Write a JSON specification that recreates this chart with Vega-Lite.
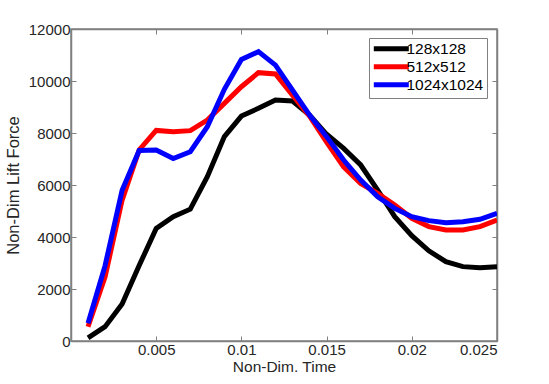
{
  "$schema": "https://vega.github.io/schema/vega-lite/v6.json",
  "width": 426,
  "height": 312,
  "autosize": {"type": "none"},
  "padding": {"left": 71, "top": 29, "right": 52, "bottom": 43},
  "background": "white",
  "config": {
    "font": "Liberation Sans",
    "view": {"stroke": "#808080", "strokeWidth": 1.5},
    "axis": {
      "domainColor": "#808080",
      "domainWidth": 1.5,
      "tickColor": "#808080",
      "tickSize": -5,
      "tickWidth": 1,
      "grid": false,
      "labelColor": "#262626",
      "labelFontSize": 15,
      "titleColor": "#262626",
      "titleFontSize": 15.5,
      "titleFontWeight": "normal"
    }
  },
  "data": {
    "values": [
      {"t": 0.001, "f": 120, "s": "128x128"},
      {"t": 0.002, "f": 550, "s": "128x128"},
      {"t": 0.003, "f": 1420, "s": "128x128"},
      {"t": 0.004, "f": 2900, "s": "128x128"},
      {"t": 0.005, "f": 4330, "s": "128x128"},
      {"t": 0.006, "f": 4780, "s": "128x128"},
      {"t": 0.007, "f": 5070, "s": "128x128"},
      {"t": 0.008, "f": 6320, "s": "128x128"},
      {"t": 0.009, "f": 7860, "s": "128x128"},
      {"t": 0.010, "f": 8650, "s": "128x128"},
      {"t": 0.011, "f": 8950, "s": "128x128"},
      {"t": 0.012, "f": 9270, "s": "128x128"},
      {"t": 0.013, "f": 9230, "s": "128x128"},
      {"t": 0.014, "f": 8690, "s": "128x128"},
      {"t": 0.015, "f": 7950, "s": "128x128"},
      {"t": 0.016, "f": 7410, "s": "128x128"},
      {"t": 0.017, "f": 6770, "s": "128x128"},
      {"t": 0.018, "f": 5800, "s": "128x128"},
      {"t": 0.019, "f": 4780, "s": "128x128"},
      {"t": 0.020, "f": 4050, "s": "128x128"},
      {"t": 0.021, "f": 3470, "s": "128x128"},
      {"t": 0.022, "f": 3050, "s": "128x128"},
      {"t": 0.023, "f": 2860, "s": "128x128"},
      {"t": 0.024, "f": 2820, "s": "128x128"},
      {"t": 0.025, "f": 2860, "s": "128x128"},
      {"t": 0.001, "f": 550, "s": "512x512"},
      {"t": 0.002, "f": 2470, "s": "512x512"},
      {"t": 0.003, "f": 5420, "s": "512x512"},
      {"t": 0.004, "f": 7350, "s": "512x512"},
      {"t": 0.005, "f": 8100, "s": "512x512"},
      {"t": 0.006, "f": 8050, "s": "512x512"},
      {"t": 0.007, "f": 8090, "s": "512x512"},
      {"t": 0.008, "f": 8500, "s": "512x512"},
      {"t": 0.009, "f": 9140, "s": "512x512"},
      {"t": 0.010, "f": 9780, "s": "512x512"},
      {"t": 0.011, "f": 10320, "s": "512x512"},
      {"t": 0.012, "f": 10270, "s": "512x512"},
      {"t": 0.013, "f": 9450, "s": "512x512"},
      {"t": 0.014, "f": 8650, "s": "512x512"},
      {"t": 0.015, "f": 7650, "s": "512x512"},
      {"t": 0.016, "f": 6700, "s": "512x512"},
      {"t": 0.017, "f": 6060, "s": "512x512"},
      {"t": 0.018, "f": 5680, "s": "512x512"},
      {"t": 0.019, "f": 5230, "s": "512x512"},
      {"t": 0.020, "f": 4720, "s": "512x512"},
      {"t": 0.021, "f": 4400, "s": "512x512"},
      {"t": 0.022, "f": 4270, "s": "512x512"},
      {"t": 0.023, "f": 4270, "s": "512x512"},
      {"t": 0.024, "f": 4400, "s": "512x512"},
      {"t": 0.025, "f": 4650, "s": "512x512"},
      {"t": 0.001, "f": 680, "s": "1024x1024"},
      {"t": 0.002, "f": 2900, "s": "1024x1024"},
      {"t": 0.003, "f": 5800, "s": "1024x1024"},
      {"t": 0.004, "f": 7330, "s": "1024x1024"},
      {"t": 0.005, "f": 7350, "s": "1024x1024"},
      {"t": 0.006, "f": 7020, "s": "1024x1024"},
      {"t": 0.007, "f": 7280, "s": "1024x1024"},
      {"t": 0.008, "f": 8240, "s": "1024x1024"},
      {"t": 0.009, "f": 9680, "s": "1024x1024"},
      {"t": 0.010, "f": 10830, "s": "1024x1024"},
      {"t": 0.011, "f": 11130, "s": "1024x1024"},
      {"t": 0.012, "f": 10610, "s": "1024x1024"},
      {"t": 0.013, "f": 9650, "s": "1024x1024"},
      {"t": 0.014, "f": 8690, "s": "1024x1024"},
      {"t": 0.015, "f": 7860, "s": "1024x1024"},
      {"t": 0.016, "f": 6960, "s": "1024x1024"},
      {"t": 0.017, "f": 6190, "s": "1024x1024"},
      {"t": 0.018, "f": 5550, "s": "1024x1024"},
      {"t": 0.019, "f": 5100, "s": "1024x1024"},
      {"t": 0.020, "f": 4780, "s": "1024x1024"},
      {"t": 0.021, "f": 4630, "s": "1024x1024"},
      {"t": 0.022, "f": 4550, "s": "1024x1024"},
      {"t": 0.023, "f": 4590, "s": "1024x1024"},
      {"t": 0.024, "f": 4680, "s": "1024x1024"},
      {"t": 0.025, "f": 4910, "s": "1024x1024"}
    ]
  },
  "layer": [
    {
      "mark": {"type": "line", "strokeWidth": 5, "strokeOpacity": 0},
      "encoding": {
        "x": {"field": "t", "type": "quantitative",
              "scale": {"domain": [0, 0.025], "nice": false, "zero": false},
              "axis": {"orient": "top", "labels": false, "title": null,
                       "values": [0.005, 0.01, 0.015, 0.02, 0.025]}},
        "y": {"field": "f", "type": "quantitative",
              "scale": {"domain": [0, 12000], "nice": false},
              "axis": {"orient": "right", "labels": false, "title": null,
                       "values": [0, 2000, 4000, 6000, 8000, 10000, 12000]}},
        "detail": {"field": "s"}
      }
    },
    {
      "mark": {"type": "line", "strokeWidth": 5, "strokeJoin": "miter", "clip": true},
      "encoding": {
        "x": {"field": "t", "type": "quantitative",
              "scale": {"domain": [0, 0.025], "nice": false, "zero": false},
              "axis": {"orient": "bottom", "title": "Non-Dim. Time", "format": "~g",
                       "labelPadding": 6, "titlePadding": 2,
                       "values": [0.005, 0.01, 0.015, 0.02, 0.025]}},
        "y": {"field": "f", "type": "quantitative",
              "scale": {"domain": [0, 12000], "nice": false},
              "axis": {"orient": "left", "title": "Non-Dim Lift Force", "format": "d",
                       "labelPadding": 6, "titlePadding": 7, "titleFontSize": 16.5,
                       "values": [0, 2000, 4000, 6000, 8000, 10000, 12000]}},
        "color": {
          "field": "s", "type": "nominal",
          "scale": {"domain": ["128x128", "512x512", "1024x1024"],
                    "range": ["#000000", "#ff0000", "#0000ff"]},
          "legend": {
            "title": null,
            "orient": "none",
            "legendX": 298,
            "legendY": 9,
            "strokeColor": "#808080",
            "fillColor": "white",
            "padding": 3,
            "symbolType": "M-1.7,0H8.3",
            "symbolSize": 49,
            "symbolStrokeWidth": 5,
            "labelOffset": 19,
            "labelFontSize": 15.5,
            "labelColor": "#000000",
            "rowPadding": -5
          }
        }
      }
    }
  ],
  "resolve": {"axis": {"x": "independent", "y": "independent"}}
}
